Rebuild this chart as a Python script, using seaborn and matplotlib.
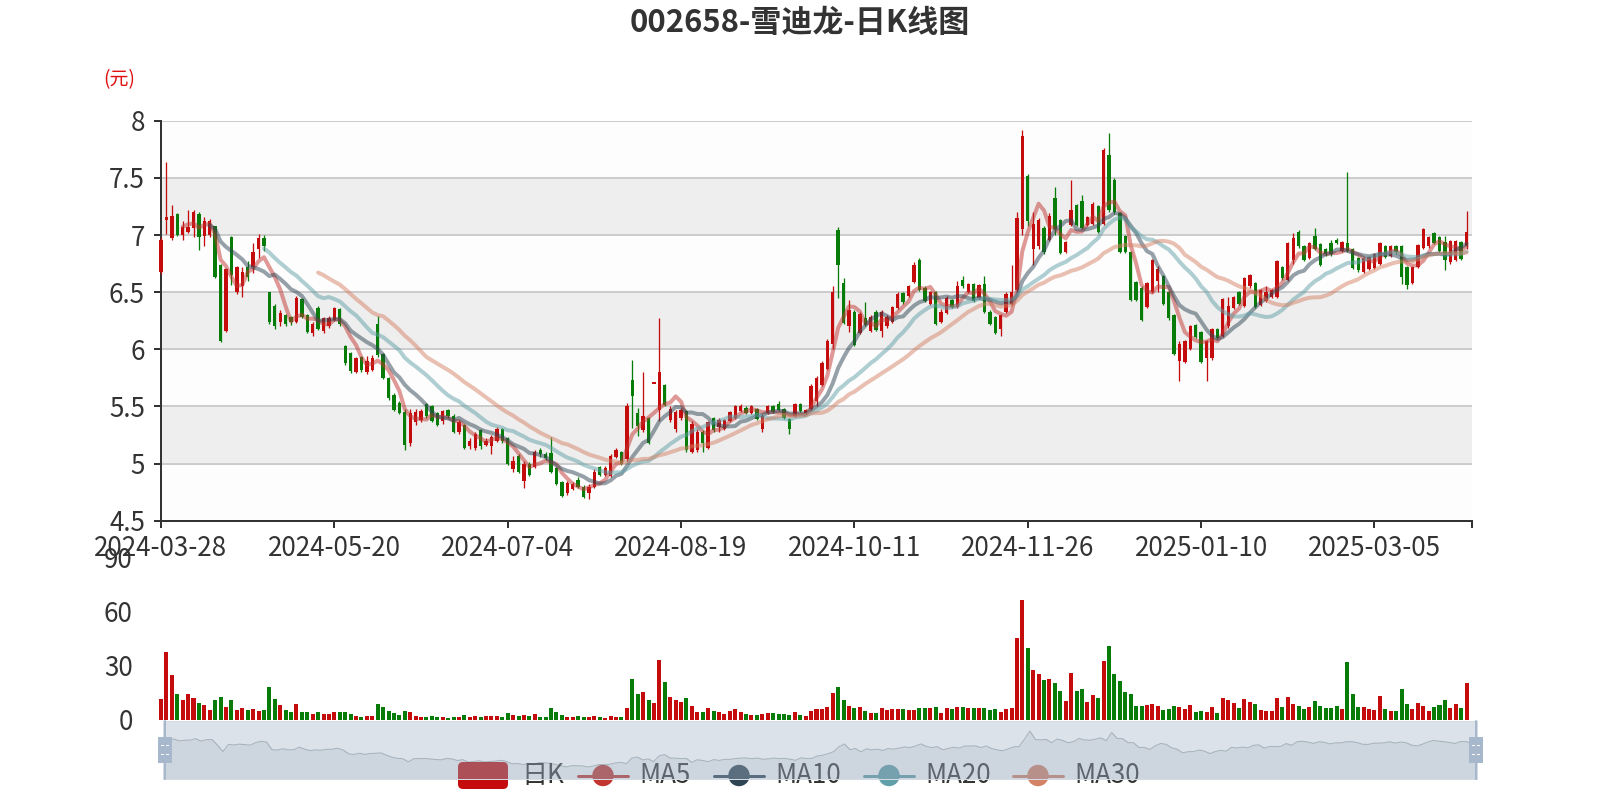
import matplotlib as mpl

mpl.use('Agg')
import numpy as np
import pandas as pd
import matplotlib.pyplot as plt
from matplotlib.patches import FancyBboxPatch, Circle, Rectangle
from matplotlib.lines import Line2D
import seaborn as sns

sns.set_theme(style='white')
plt.rcParams['font.family'] = ['Noto Sans CJK SC', 'DejaVu Sans']

#### data ####
TITLE = '002658-雪迪龙-日K线图'
UNIT = '(元)'

holidays = ['2024-04-04', '2024-04-05', '2024-05-01', '2024-05-02', '2024-05-03',
            '2024-06-10', '2024-09-16', '2024-09-17', '2024-10-01', '2024-10-02',
            '2024-10-03', '2024-10-04', '2024-10-07', '2025-01-01', '2025-01-28',
            '2025-01-29', '2025-01-30', '2025-01-31', '2025-02-03', '2025-02-04']

open_ = [6.68, 7.13, 6.97, 7.18, 7.00, 7.03, 7.06, 7.18, 6.99, 7.00,
         7.08, 6.74, 6.16, 6.98, 6.50, 6.55, 6.72, 6.72, 6.88, 6.97,
         6.50, 6.38, 6.24, 6.30, 6.28, 6.24, 6.44, 6.30, 6.14, 6.36,
         6.16, 6.20, 6.26, 6.35, 6.03, 5.97, 5.80, 5.93, 5.80, 5.82,
         6.22, 5.96, 5.75, 5.60, 5.53, 5.45, 5.18, 5.36, 5.38, 5.52,
         5.50, 5.44, 5.37, 5.47, 5.42, 5.28, 5.34, 5.15, 5.14, 5.29,
         5.16, 5.15, 5.20, 5.30, 5.22, 4.95, 5.07, 4.85, 5.00, 4.97,
         5.12, 5.08, 5.09, 4.96, 4.84, 4.74, 4.78, 4.86, 4.80, 4.74,
         4.80, 4.97, 4.90, 4.89, 5.06, 5.10, 5.04, 5.73, 5.44, 5.29,
         5.40, 5.70, 5.47, 5.69, 5.38, 5.30, 5.40, 5.46, 5.10, 5.12,
         5.28, 5.14, 5.40, 5.32, 5.30, 5.37, 5.40, 5.46, 5.49, 5.44,
         5.48, 5.30, 5.44, 5.50, 5.52, 5.48, 5.39, 5.42, 5.52, 5.44,
         5.48, 5.55, 5.69, 5.83, 6.05, 7.04, 6.58, 6.20, 6.33, 6.14,
         6.27, 6.16, 6.33, 6.16, 6.20, 6.24, 6.36, 6.49, 6.47, 6.59,
         6.78, 6.54, 6.40, 6.50, 6.24, 6.32, 6.43, 6.37, 6.61, 6.50,
         6.57, 6.45, 6.57, 6.33, 6.28, 6.18, 6.33, 6.40, 6.52, 7.05,
         7.52, 6.88, 6.90, 7.06, 6.96, 7.32, 7.13, 6.85, 7.09, 7.26,
         7.30, 7.09, 7.10, 7.25, 7.10, 7.70, 7.48, 7.19, 6.99, 6.85,
         6.59, 6.54, 6.37, 6.50, 6.60, 6.64, 6.50, 6.30, 5.90, 5.89,
         6.00, 6.21, 6.15, 5.92, 5.92, 6.18, 6.12, 6.20, 6.36, 6.50,
         6.38, 6.55, 6.58, 6.39, 6.42, 6.46, 6.46, 6.72, 6.61, 6.78,
         7.03, 6.90, 6.80, 6.99, 6.92, 6.88, 6.93, 6.96, 6.86, 6.93,
         6.88, 6.80, 6.68, 6.70, 6.71, 6.75, 6.90, 6.82, 6.90, 6.90,
         6.72, 6.58, 6.72, 6.89, 6.90, 7.02, 6.98, 6.94, 6.76, 6.78, 6.94, 6.90]

close = [6.96, 7.16, 7.17, 7.00, 7.07, 7.07, 7.20, 6.98, 7.12, 7.12,
         6.63, 6.07, 6.70, 6.65, 6.72, 6.68, 6.63, 6.85, 6.97, 6.90,
         6.24, 6.20, 6.32, 6.22, 6.24, 6.45, 6.28, 6.15, 6.22, 6.18,
         6.27, 6.27, 6.36, 6.22, 5.88, 5.81, 5.92, 5.82, 5.90, 5.92,
         5.95, 5.75, 5.57, 5.47, 5.44, 5.16, 5.44, 5.45, 5.46, 5.42,
         5.37, 5.34, 5.46, 5.42, 5.28, 5.36, 5.14, 5.20, 5.26, 5.15,
         5.20, 5.23, 5.30, 5.20, 5.00, 5.02, 4.93, 5.00, 4.90, 5.10,
         5.08, 5.05, 4.93, 4.82, 4.72, 4.83, 4.82, 4.80, 4.71, 4.80,
         4.93, 4.90, 4.96, 5.07, 5.12, 5.00, 5.50, 5.59, 5.33, 5.42,
         5.18, 5.70, 5.80, 5.51, 5.48, 5.45, 5.47, 5.12, 5.35, 5.28,
         5.18, 5.36, 5.29, 5.38, 5.38, 5.45, 5.50, 5.50, 5.44, 5.50,
         5.39, 5.42, 5.50, 5.45, 5.47, 5.40, 5.30, 5.52, 5.46, 5.47,
         5.68, 5.75, 5.88, 6.07, 6.50, 6.74, 6.23, 6.34, 6.04, 6.31,
         6.21, 6.28, 6.17, 6.33, 6.28, 6.37, 6.48, 6.41, 6.55, 6.74,
         6.52, 6.42, 6.50, 6.22, 6.33, 6.45, 6.37, 6.55, 6.55, 6.57,
         6.42, 6.56, 6.33, 6.22, 6.14, 6.30, 6.48, 6.50, 7.15, 7.87,
         7.12, 7.10, 7.13, 6.85, 7.17, 7.05, 6.84, 6.94, 7.22, 7.09,
         7.06, 7.16, 7.27, 7.03, 7.74, 7.22, 7.20, 6.85, 6.85, 6.43,
         6.43, 6.26, 6.58, 6.78, 6.70, 6.40, 6.27, 5.96, 6.05, 6.07,
         6.20, 6.11, 5.89, 6.07, 6.18, 6.10, 6.44, 6.38, 6.46, 6.40,
         6.62, 6.65, 6.37, 6.52, 6.50, 6.52, 6.77, 6.62, 6.93, 6.97,
         6.90, 6.78, 6.93, 6.88, 6.74, 6.83, 6.83, 6.93, 6.94, 6.86,
         6.71, 6.69, 6.80, 6.81, 6.83, 6.93, 6.81, 6.90, 6.85, 6.63,
         6.56, 6.72, 6.91, 7.05, 6.98, 6.93, 6.86, 6.78, 6.95, 6.95, 6.79, 7.03]

high = [6.98, 7.64, 7.26, 7.19, 7.12, 7.22, 7.22, 7.20, 7.16, 7.14,
        7.08, 6.75, 6.71, 6.99, 6.73, 6.72, 6.77, 6.93, 7.01, 7.00,
        6.50, 6.40, 6.34, 6.31, 6.29, 6.47, 6.45, 6.31, 6.24, 6.38,
        6.28, 6.29, 6.37, 6.36, 6.04, 5.98, 5.93, 5.94, 5.94, 5.95,
        6.29, 5.97, 5.76, 5.62, 5.55, 5.48, 5.48, 5.48, 5.48, 5.53,
        5.51, 5.45, 5.47, 5.48, 5.43, 5.38, 5.35, 5.22, 5.28, 5.30,
        5.22, 5.25, 5.32, 5.31, 5.23, 5.07, 5.08, 5.02, 5.01, 5.12,
        5.14, 5.10, 5.23, 4.97, 4.85, 4.85, 4.84, 4.88, 4.81, 4.82,
        4.95, 4.98, 4.98, 5.08, 5.14, 5.11, 5.53, 5.91, 5.49, 5.80,
        5.41, 5.70, 6.27, 5.70, 5.50, 5.47, 5.49, 5.47, 5.37, 5.30,
        5.29, 5.37, 5.41, 5.40, 5.39, 5.46, 5.51, 5.52, 5.50, 5.51,
        5.49, 5.43, 5.51, 5.51, 5.55, 5.49, 5.40, 5.53, 5.53, 5.48,
        5.70, 5.77, 5.90, 6.09, 6.55, 7.07, 6.62, 6.43, 6.34, 6.33,
        6.41, 6.30, 6.34, 6.34, 6.30, 6.38, 6.50, 6.50, 6.56, 6.76,
        6.80, 6.55, 6.51, 6.51, 6.35, 6.47, 6.44, 6.60, 6.64, 6.58,
        6.58, 6.57, 6.64, 6.34, 6.29, 6.31, 6.50, 6.74, 7.20, 7.92,
        7.53, 7.20, 7.15, 7.08, 7.19, 7.42, 7.14, 6.95, 7.48, 7.27,
        7.35, 7.17, 7.29, 7.26, 7.76, 7.89, 7.50, 7.20, 7.00, 6.86,
        6.60, 6.55, 6.59, 6.79, 6.73, 6.65, 6.51, 6.31, 6.07, 6.08,
        6.21, 6.22, 6.16, 6.08, 6.19, 6.19, 6.45, 6.46, 6.47, 6.51,
        6.63, 6.66, 6.59, 6.53, 6.55, 6.53, 6.78, 6.73, 6.94, 7.02,
        7.04, 6.91, 6.94, 7.06, 6.93, 6.89, 6.96, 6.97, 6.95, 7.55,
        6.89, 6.81, 6.81, 6.82, 6.84, 6.94, 6.91, 6.91, 6.91, 6.91,
        6.73, 6.73, 6.92, 7.06, 6.99, 7.03, 6.99, 6.99, 6.96, 6.96, 6.95, 7.21]

low = [6.66, 7.01, 6.96, 6.99, 6.96, 7.02, 6.98, 6.87, 6.90, 6.98,
       6.62, 6.06, 6.15, 6.56, 6.48, 6.46, 6.60, 6.67, 6.80, 6.86,
       6.22, 6.18, 6.20, 6.20, 6.21, 6.23, 6.27, 6.14, 6.12, 6.17,
       6.14, 6.19, 6.25, 6.20, 5.86, 5.79, 5.79, 5.80, 5.78, 5.81,
       5.93, 5.74, 5.56, 5.46, 5.43, 5.12, 5.15, 5.34, 5.36, 5.40,
       5.36, 5.33, 5.35, 5.40, 5.27, 5.26, 5.13, 5.13, 5.12, 5.13,
       5.15, 5.08, 5.19, 5.18, 4.99, 4.93, 4.92, 4.79, 4.89, 4.96,
       5.06, 5.03, 4.92, 4.81, 4.71, 4.73, 4.77, 4.79, 4.70, 4.69,
       4.79, 4.89, 4.89, 4.88, 5.05, 4.99, 5.02, 5.31, 5.24, 5.28,
       5.17, 5.70, 5.37, 5.50, 5.36, 5.28, 5.38, 5.10, 5.09, 5.10,
       5.10, 5.13, 5.28, 5.28, 5.29, 5.36, 5.39, 5.45, 5.43, 5.43,
       5.38, 5.28, 5.43, 5.44, 5.46, 5.39, 5.26, 5.41, 5.45, 5.43,
       5.47, 5.50, 5.68, 5.82, 6.00, 6.45, 6.22, 6.15, 6.03, 6.13,
       6.20, 6.15, 6.16, 6.11, 6.19, 6.23, 6.35, 6.40, 6.46, 6.58,
       6.51, 6.41, 6.39, 6.21, 6.23, 6.31, 6.36, 6.36, 6.54, 6.49,
       6.41, 6.44, 6.32, 6.21, 6.13, 6.12, 6.32, 6.39, 6.50, 7.00,
       7.08, 6.74, 6.88, 6.83, 6.95, 7.00, 6.83, 6.84, 7.08, 7.08,
       7.05, 7.08, 7.09, 7.02, 7.09, 7.20, 7.18, 6.84, 6.84, 6.42,
       6.42, 6.25, 6.36, 6.49, 6.50, 6.39, 6.26, 5.95, 5.72, 5.88,
       5.99, 6.10, 5.88, 5.72, 5.91, 6.09, 6.11, 6.19, 6.35, 6.39,
       6.37, 6.54, 6.36, 6.38, 6.41, 6.45, 6.45, 6.61, 6.60, 6.75,
       6.89, 6.77, 6.79, 6.87, 6.73, 6.82, 6.82, 6.92, 6.85, 6.85,
       6.70, 6.68, 6.67, 6.69, 6.70, 6.74, 6.80, 6.81, 6.83, 6.57,
       6.53, 6.57, 6.71, 6.88, 6.89, 6.92, 6.85, 6.69, 6.75, 6.77, 6.78, 6.88]

# volume, 万手
volume = [11.6, 37.5, 24.6, 14.2, 11.1, 14.2, 12.0, 9.6, 8.1, 5.5,
          10.9, 12.6, 7.0, 10.9, 5.5, 6.6, 5.5, 6.1, 5.0, 5.4,
          18.3, 11.4, 8.3, 5.4, 4.4, 8.9, 4.6, 4.6, 3.3, 4.4,
          3.1, 3.3, 4.2, 4.4, 4.4, 3.5, 2.4, 1.8, 2.2, 2.0,
          8.9, 7.0, 4.8, 3.9, 2.8, 5.2, 4.4, 2.0, 1.7, 1.8,
          2.0, 1.8, 1.7, 1.3, 1.8, 1.7, 2.8, 1.7, 2.4, 1.7,
          2.0, 2.0, 2.0, 1.7, 3.9, 2.6, 2.4, 2.6, 2.2, 3.1,
          1.7, 1.7, 6.8, 4.4, 3.0, 1.7, 1.7, 2.0, 1.5, 1.7,
          2.4, 1.7, 1.1, 2.4, 1.7, 1.5, 6.5, 22.7, 14.4, 15.5,
          10.9, 9.4, 33.4, 21.0, 12.7, 11.1, 10.0, 12.2, 7.8, 4.4,
          4.4, 6.8, 5.0, 4.4, 3.5, 5.0, 5.9, 4.4, 3.1, 2.6,
          2.8, 3.5, 3.7, 3.9, 3.3, 3.3, 2.8, 4.6, 3.0, 2.0,
          4.8, 5.9, 6.1, 7.4, 15.0, 18.3, 10.9, 7.9, 6.6, 7.2,
          5.2, 3.7, 4.1, 6.5, 5.5, 5.9, 5.9, 5.9, 5.4, 5.4,
          6.5, 6.5, 6.6, 7.4, 4.1, 6.8, 5.9, 7.4, 7.0, 6.6,
          6.8, 6.5, 6.5, 5.7, 6.1, 4.6, 5.9, 6.5, 45.2, 66.1,
          39.5, 27.5, 25.5, 22.3, 22.5, 20.7, 16.1, 10.3, 26.2, 16.1,
          17.0, 10.0, 13.8, 12.0, 32.5, 40.8, 25.3, 21.8, 15.3, 14.4,
          7.8, 7.6, 8.3, 9.0, 7.6, 5.5, 6.3, 7.8, 7.2, 6.1,
          8.5, 4.6, 5.2, 4.6, 7.0, 4.1, 12.0, 10.9, 9.4, 6.6,
          11.6, 9.8, 8.9, 5.7, 5.0, 5.0, 12.2, 7.0, 12.6, 8.9,
          7.6, 6.1, 7.2, 10.3, 7.6, 6.6, 6.6, 7.8, 6.1, 32.1,
          14.2, 7.4, 7.0, 5.9, 5.5, 13.3, 6.3, 5.0, 5.0, 17.0,
          8.9, 6.1, 9.4, 7.8, 5.0, 7.2, 8.1, 11.3, 6.5, 8.9, 6.5, 20.3]

price_ticks = [4.5, 5, 5.5, 6, 6.5, 7, 7.5, 8]
volume_ticks = [0, 30, 60, 90]
ma_windows = [5, 10, 20, 30]
legend_names = ['日K', 'MA5', 'MA10', 'MA20', 'MA30']
########################

C_UP = '#c40c0c'
C_DOWN = '#087c08'
MA_COLORS = {'MA5': '#c23531', 'MA10': '#2f4554', 'MA20': '#61a0a8', 'MA30': '#d48265'}
TXT = '#333333'


def px(v):
    # pixels -> points at dpi 100
    return v * 0.72


dates = pd.bdate_range('2024-03-28', '2025-03-28', freq='C', holidays=holidays)
df = pd.DataFrame({'date': dates, 'open': open_, 'high': high, 'low': low,
                   'close': close, 'volume': volume})
df['x'] = np.arange(len(df))
for n in ma_windows:
    df[f'MA{n}'] = df['close'].rolling(n).mean()
up = (df['close'] >= df['open']).to_numpy()
colors = np.where(up, C_UP, C_DOWN)
n_cat = len(df) + 1  # the category axis has one empty slot at the end

fig = plt.figure(figsize=(16, 8), dpi=100)
fig.patch.set_facecolor('white')

# ---- price panel ----
ax = fig.add_axes([161 / 1600, 1 - 520.8 / 800, 1311 / 1600, 400.1 / 800])
ax.set_facecolor('white')
for k in range(len(price_ticks) - 1):
    ax.axhspan(price_ticks[k], price_ticks[k + 1],
               color='#fdfdfd' if k % 2 == 0 else '#eeeeee', lw=0, zorder=0)
for v in price_ticks:
    ax.axhline(v, color='#cccccc', lw=px(2), zorder=1)

ax.vlines(df['x'], df['low'], df['high'], colors=colors, lw=px(1.3),
          zorder=3, clip_on=False)
body_lo = df[['open', 'close']].min(axis=1)
body_h = (df['close'] - df['open']).abs().clip(lower=0.012)
ax.bar(df['x'], body_h, bottom=body_lo, width=0.62, color=colors, lw=0,
       zorder=4, clip_on=False)

for name, c in MA_COLORS.items():
    sns.lineplot(data=df, x='x', y=name, color=c, lw=px(4), alpha=0.5,
                 ax=ax, zorder=5)

ax.set_xlim(0, n_cat - 1)
ax.set_ylim(4.5, 8)
ax.set_xlabel('')
ax.set_ylabel('')
tick_pos = list(range(0, len(df), 32)) + [n_cat - 1]
tick_lab = [d.strftime('%Y-%m-%d') for d in dates[::32]] + ['']
ax.set_xticks(tick_pos)
ax.set_xticklabels(tick_lab)
ax.set_yticks(price_ticks)
ax.set_yticklabels([f'{v:g}' for v in price_ticks])
ax.tick_params(axis='both', bottom=True, left=True, direction='out',
               length=px(7), width=px(2), color=TXT, labelsize=px(26),
               labelcolor=TXT)
ax.tick_params(axis='x', pad=px(7))
ax.tick_params(axis='y', pad=px(9))
ax.spines['right'].set_color('none')
ax.spines['top'].set_color('none')
for s in ('left', 'bottom'):
    ax.spines[s].set_color(TXT)
    ax.spines[s].set_linewidth(px(2))
    ax.spines[s].set_zorder(2)

# ---- volume panel ----
axv = fig.add_axes([161 / 1600, 1 - 720 / 800, 1311 / 1600, 163 / 800])
axv.set_facecolor('none')
axv.bar(df['x'], df['volume'], width=0.74, color=colors, lw=0, clip_on=False)
axv.set_xlim(0, n_cat - 1)
axv.set_ylim(0, 90)
axv.set_xticks([])
axv.set_yticks(volume_ticks)
axv.set_yticklabels([str(v) for v in volume_ticks])
axv.tick_params(axis='y', left=False, labelsize=px(26), labelcolor=TXT,
                pad=px(20))
for s in axv.spines.values():
    s.set_visible(False)
axv.set_xlabel('')
axv.set_ylabel('')

# ---- overlay for title and legend (in pixels, y down) ----
axo = fig.add_axes([0, 0, 1, 1], zorder=4)
axo.set_xlim(0, 1600)
axo.set_ylim(800, 0)
axo.axis('off')
axo.text(800, 23, TITLE, ha='center', va='center', fontsize=px(31),
         fontweight='bold', color=TXT)
axo.text(119, 80, UNIT, ha='center', va='center', fontsize=px(19), color='#e01010')

ly = 775.5
axo.add_patch(FancyBboxPatch((458 + 5, 762 + 5), 50 - 10, 27 - 10,
                             boxstyle='round,pad=5', color=C_UP, lw=0))
axo.text(521, ly, legend_names[0], ha='left', va='center', fontsize=px(26), color=TXT)
leg_x = [578, 714, 864, 1013]
for x0, name in zip(leg_x, legend_names[1:]):
    c = MA_COLORS[name]
    axo.add_line(Line2D([x0, x0 + 50], [ly, ly], color=c, lw=px(3)))
    axo.add_patch(Circle((x0 + 25, ly), 10.7, color=c, lw=0))
    axo.text(x0 + 61, ly, name, ha='left', va='center', fontsize=px(26), color=TXT)

# ---- dataZoom slider ----
axs = fig.add_axes([163 / 1600, 21.5 / 800, 1314 / 1600, 57.5 / 800], zorder=10)
axs.set_facecolor((167 / 255, 183 / 255, 204 / 255, 0.4))
axs.fill_between(df['x'], df['close'], 3.7, color='#2f4554', alpha=0.08, lw=0)
sns.lineplot(data=df, x='x', y='close', color='#2f4554', alpha=0.3, lw=px(1), ax=axs)
axs.set_xlim(0, len(df) - 1)
axs.set_ylim(3.7, 8.75)
axs.set_xticks([])
axs.set_yticks([])
axs.set_xlabel('')
axs.set_ylabel('')
for s in axs.spines.values():
    s.set_color('#d5dbe4')
    s.set_linewidth(px(1))

axh = fig.add_axes([0, 0, 1, 1], zorder=12)
axh.set_xlim(0, 1600)
axh.set_ylim(800, 0)
axh.axis('off')
for cx in (164.5, 1475.5):
    axh.add_line(Line2D([cx, cx], [721, 779], color='#a7b7cc', lw=px(2)))
    axh.add_patch(Rectangle((cx - 7, 737), 14, 26, color='#a7b7cc', lw=0))
    for yy in (744.5, 753.5):
        axh.add_patch(Rectangle((cx - 4, yy), 8, 1.6, color='white', lw=0))

plt.savefig('out.png', dpi=100, facecolor='white')
